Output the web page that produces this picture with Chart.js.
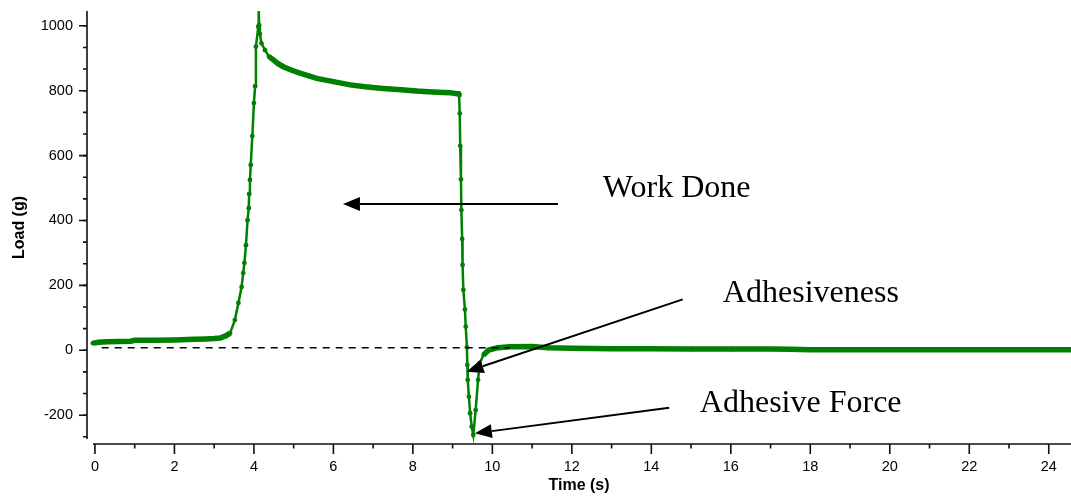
<!DOCTYPE html>
<html>
<head>
<meta charset="UTF-8">
<script src="https://cdn.jsdelivr.net/npm/chart.js@4.4.1/dist/chart.umd.min.js"></script>
<style>
html,body{margin:0;padding:0;background:#fff;overflow:hidden}
#c{display:block}
</style>
</head>
<body>
<canvas id="c" width="1071" height="498"></canvas>
<script>
// ── data ──
const timeS=[-0.05,0.1,0.3,0.6,0.9,1.0,1.5,2.0,2.5,2.8,3.0,3.15,3.3,3.40,3.52,3.61,3.69,3.73,3.76,3.80,3.84,3.87,3.88,3.90,3.92,3.96,4.00,4.03,4.05,4.11,4.12,4.13,4.15,4.19,4.28,4.38,4.49,4.6,4.74,4.95,5.16,5.4,5.58,6.0,6.42,6.8,7.25,7.7,8.09,8.5,8.93,9.14,9.16,9.18,9.19,9.21,9.22,9.24,9.25,9.27,9.31,9.33,9.36,9.37,9.38,9.41,9.44,9.48,9.52,9.58,9.64,9.68,9.78,9.91,10.14,10.44,11.0,11.4,12,13,14,15,16,17,17.5,18,19,20,21,22,23,24,24.56];
const loadG=[22,25,26,27,28,31,31,32,34,35,36,38,45,53,93,146,195,238,269,324,401,438,482,525,571,660,762,814,936,997,1060,1002,975,946,925,905,895,884,874,863,854,845,838,828,818,812,807,803,799,796,794,790,792,730,630,527,432,343,263,186,126,73,9,-45,-91,-143,-194,-235,-261,-184,-91,-40,-14,1,8,11,12,8,6,5,5,4,4,4,3,2,2,2,2,2,2,2,2];

// baseline reference (dashed)
const refLineX=[0.17,10.44];
const refLineY=[8,8];

const xTicks=[0,2,4,6,8,10,12,14,16,18,20,22,24];
const yTicks=[-200,0,200,400,600,800,1000];

// annotations (data units)
const arrowFromX=[11.65,14.79,14.45];
const arrowFromY=[451,157,-177];
const arrowToX=[6.24,9.35,9.56];
const arrowToY=[451,-66,-256];
const noteText=['Work Done','Adhesiveness','Adhesive Force'];
const noteX=[12.78,15.80,15.22];
const noteY=[472,150,-189];

const GREEN='#008000';
Chart.defaults.font.family='"Liberation Sans", Arial, sans-serif';
Chart.defaults.color='#000';

// axes drawn Origin-style (detached corner, major+minor ticks)
const axesPlugin={
  id:'axes',
  afterDraw(chart){
    const {ctx,chartArea:a,scales:{x,y}}=chart;
    ctx.save();
    ctx.strokeStyle='#111';ctx.lineWidth=1.6;ctx.lineCap='butt';
    ctx.beginPath();
    ctx.moveTo(a.left,a.top);ctx.lineTo(a.left,a.bottom-5);
    ctx.moveTo(a.left+6,a.bottom);ctx.lineTo(a.right,a.bottom);
    ctx.stroke();
    ctx.beginPath();
    yTicks.forEach(v=>{const p=y.getPixelForValue(v);ctx.moveTo(a.left-8,p);ctx.lineTo(a.left,p);});
    xTicks.forEach(v=>{const p=x.getPixelForValue(v);ctx.moveTo(p,a.bottom);ctx.lineTo(p,a.bottom+10);});
    ctx.stroke();
    ctx.beginPath();
    const ystep=(yTicks[1]-yTicks[0])/3;
    for(let v=yTicks[0]-ystep*3;v<=y.max;v+=ystep){
      const p=y.getPixelForValue(v);
      if(p>a.bottom-5||p<a.top)continue;
      ctx.moveTo(a.left-4,p);ctx.lineTo(a.left,p);
    }
    const xstep=(xTicks[1]-xTicks[0])/2;
    for(let v=xTicks[0]+xstep;v<=x.max;v+=xstep*2){
      const p=x.getPixelForValue(v);
      ctx.moveTo(p,a.bottom);ctx.lineTo(p,a.bottom+4.5);
    }
    ctx.stroke();
    ctx.restore();
  }
};

const notesPlugin={
  id:'notes',
  afterDatasetsDraw(chart){
    const {ctx,scales:{x,y}}=chart;
    ctx.save();
    ctx.strokeStyle='#000';ctx.fillStyle='#000';ctx.lineWidth=2;
    arrowFromX.forEach((fx,i)=>{
      const x0=x.getPixelForValue(fx),y0=y.getPixelForValue(arrowFromY[i]);
      const x1=x.getPixelForValue(arrowToX[i]),y1=y.getPixelForValue(arrowToY[i]);
      const ang=Math.atan2(y1-y0,x1-x0),hl=17,hw=7;
      const bx=x1-hl*Math.cos(ang),by=y1-hl*Math.sin(ang);
      ctx.beginPath();ctx.moveTo(x0,y0);ctx.lineTo(bx,by);ctx.stroke();
      ctx.beginPath();
      ctx.moveTo(x1,y1);
      ctx.lineTo(bx+hw*Math.sin(ang),by-hw*Math.cos(ang));
      ctx.lineTo(bx-hw*Math.sin(ang),by+hw*Math.cos(ang));
      ctx.closePath();ctx.fill();
    });
    ctx.font='32px "Liberation Serif", "Times New Roman", serif';
    ctx.textAlign='left';ctx.textBaseline='alphabetic';
    noteText.forEach((t,i)=>ctx.fillText(t,x.getPixelForValue(noteX[i]),y.getPixelForValue(noteY[i])));
    ctx.restore();
  }
};

new Chart(document.getElementById('c'),{
  type:'line',
  data:{datasets:[
    {data:refLineX.map((v,i)=>({x:v,y:refLineY[i]})),borderColor:'#000',borderWidth:1.6,borderDash:[7,6],pointRadius:0,order:0},
    {data:timeS.map((v,i)=>({x:v,y:loadG[i]})),borderColor:GREEN,backgroundColor:GREEN,pointRadius:2.4,pointBorderWidth:0,
     borderWidth:2.5,order:1,
     segment:{borderWidth:c=>Math.abs(c.p1.y-c.p0.y)<Math.abs(c.p1.x-c.p0.x)?5.5:2.5}}
  ]},
  options:{
    responsive:false,animation:false,devicePixelRatio:1,
    layout:{autoPadding:false,padding:{top:11,right:0,left:0,bottom:0}},
    plugins:{legend:{display:false},tooltip:{enabled:false}},
    scales:{
      x:{type:'linear',min:-0.2,max:24.56,
        afterBuildTicks:s=>{s.ticks=xTicks.map(v=>({value:v}));},
        afterFit:s=>{s.height=54;s.paddingLeft=0;s.paddingRight=0;},
        grid:{display:false,drawTicks:false},border:{display:false},
        ticks:{padding:14,font:{size:14.5},callback:v=>String(v),maxRotation:0},
        title:{display:true,text:'Time (s)',font:{size:16,weight:'bold'},padding:{top:0,bottom:3}}},
      y:{type:'linear',min:-288.8,max:1045.6,
        afterBuildTicks:s=>{s.ticks=yTicks.map(v=>({value:v}));},
        afterFit:s=>{s.width=87;s.paddingTop=0;s.paddingBottom=0;},
        grid:{display:false,drawTicks:false},border:{display:false},
        ticks:{padding:14,font:{size:14.5},callback:v=>String(v)},
        title:{display:true,text:'Load (g)',font:{size:16,weight:'bold'},padding:{top:10,bottom:0}}}
    }
  },
  plugins:[axesPlugin,notesPlugin]
});
</script>
</body>
</html>
